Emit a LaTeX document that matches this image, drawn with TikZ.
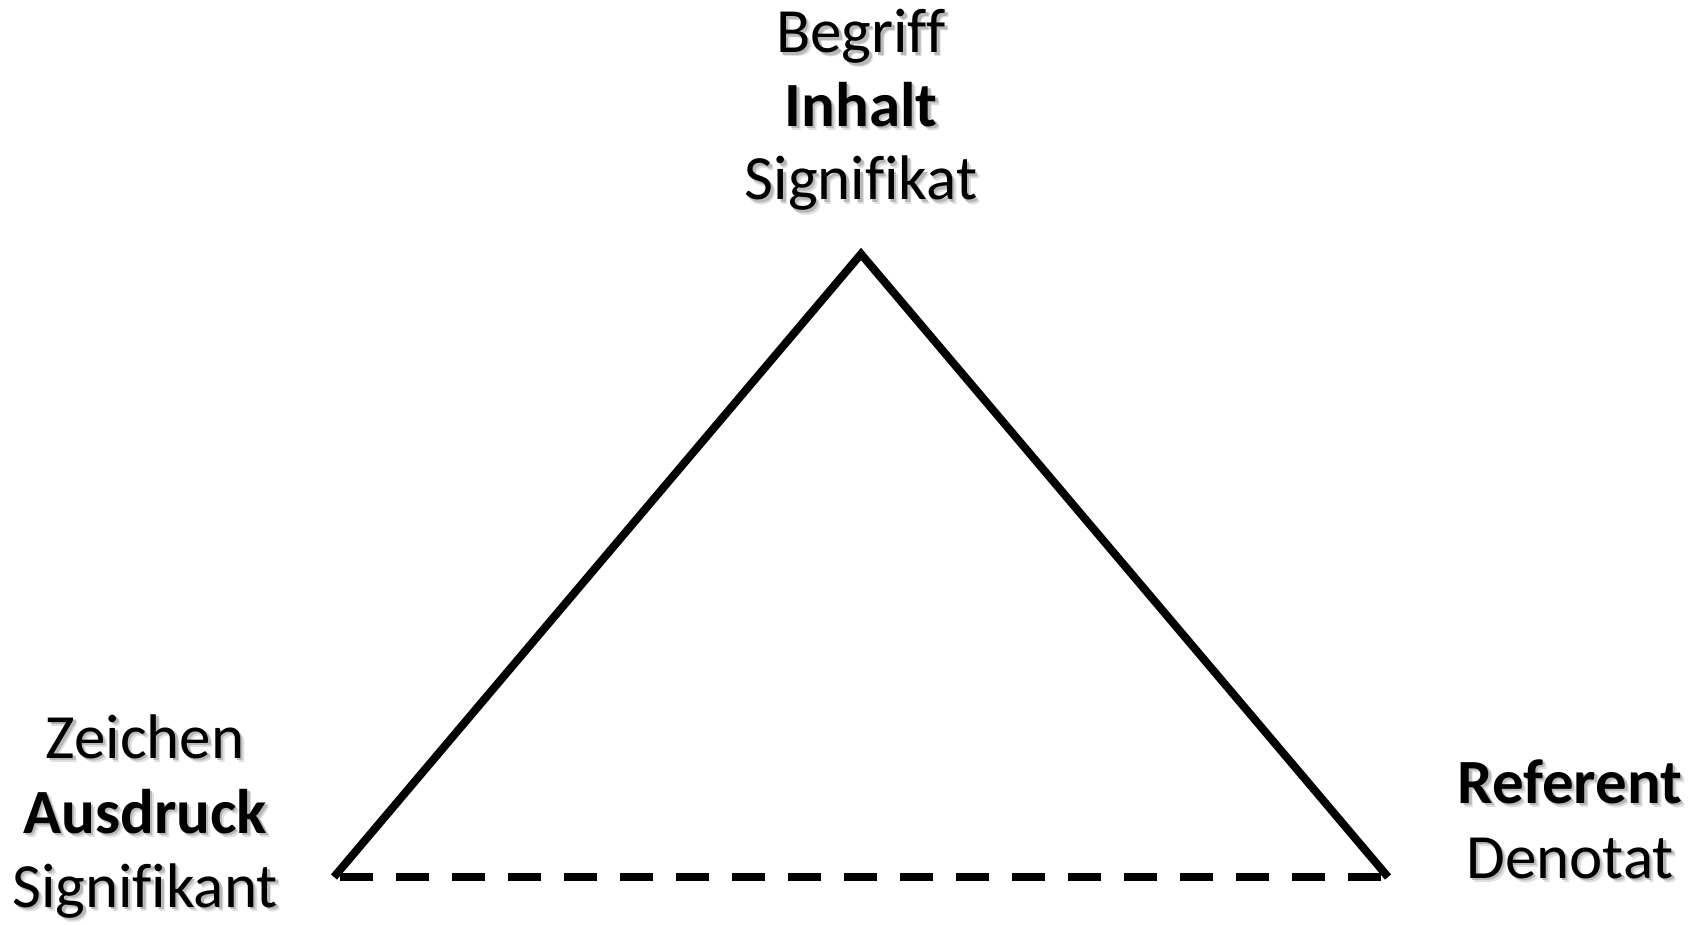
\documentclass[tikz,border=0pt]{standalone}
\usepackage{fontspec}
\setmainfont{Carlito}[Ligatures={NoCommon}]
\newcommand\shadowed[1]{%
  \makebox[0pt][l]{\hspace{2pt}\raisebox{-2pt}{\textcolor{black!12}{#1}}}%
  \makebox[0pt][l]{\hspace{1.25pt}\raisebox{-1.25pt}{\textcolor{black!28}{#1}}}%
  #1}
\tikzset{
  lbl/.style={anchor=base, inner sep=0pt, font=\fontsize{31.5}{38}\selectfont},
  edge/.style={line width=4pt, line cap=butt, line join=miter},
  dashedge/.style={line width=4pt, dash pattern=on 16.5pt off 11.5pt}
}
\begin{document}
\begin{tikzpicture}[x=0.5pt,y=-0.5pt]
  \useasboundingbox (0,0) rectangle (1702,925);
  \coordinate (a) at (861,254);
  \coordinate (l) at (334,877);
  \coordinate (r) at (1388,877);
  \draw[edge] (l) -- (a) -- (r);
  \draw[dashedge] ([xshift=3pt]l) -- (r);
  \node[lbl] (t1) at (861,53)    {\shadowed{Begriff}};
  \node[lbl] (t2) at (861,126.5) {\shadowed{\textbf{Inhalt}}};
  \node[lbl] (t3) at (861,200)   {\shadowed{Signifikat}};
  \node[lbl] (l1) at (145,758)   {\shadowed{Zeichen}};
  \node[lbl] (l2) at (145,833)   {\shadowed{\textbf{Ausdruck}}};
  \node[lbl] (l3) at (145,907)   {\shadowed{Signifikant}};
  \node[lbl] (r1) at (1570,803)  {\shadowed{\textbf{Referent}}};
  \node[lbl] (r2) at (1570,878)  {\shadowed{Denotat}};
\end{tikzpicture}
\end{document}
